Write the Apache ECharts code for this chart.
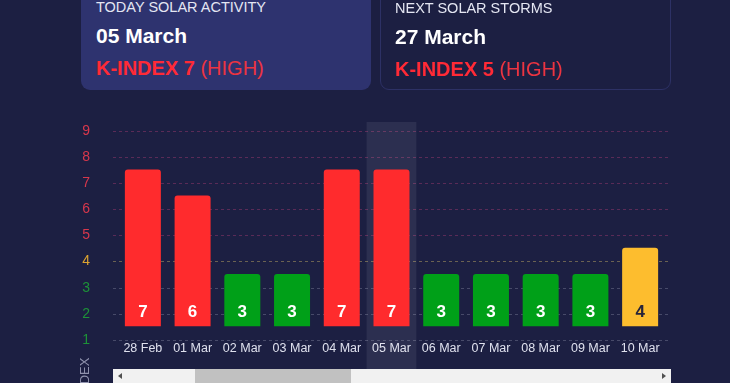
<!DOCTYPE html>
<html>
<head>
<meta charset="utf-8">
<script src="https://cdn.jsdelivr.net/npm/echarts@6/dist/echarts.min.js"></script>
<style>
  html, body { margin: 0; padding: 0; background: #1c1f42; overflow: hidden; }
  body { width: 730px; height: 383px; position: relative; font-family: "Liberation Sans", Arial, sans-serif; }
  #chart { position: absolute; left: 0; top: 0; width: 730px; height: 383px; }
  .card { position: absolute; top: -20px; height: 110px; border-radius: 9px; box-sizing: border-box; }
  .card.today { left: 81px; width: 290px; background: #2e336f; }
  .card.next { left: 380px; width: 291px; border: 1px solid #2d3165; }
  .card .t { position: absolute; left: 15px; top: 19.5px; font-size: 14.5px; line-height: 14.5px; color: #e4e6f2; }
  .card .d { position: absolute; left: 15px; top: 45px; font-size: 21px; line-height: 21px; font-weight: bold; color: #fff; }
  .card .k { position: absolute; left: 15px; top: 77.5px; font-size: 20px; line-height: 20px; color: #ec3441; white-space: nowrap; }
  .card .k b { color: #ff2a36; }
  .card.next .t, .card.next .d, .card.next .k { left: 14px; }
  .sb { position: absolute; left: 113px; top: 369px; width: 558px; height: 17px; background: #f1f1f1; }
  .sb .thumb { position: absolute; left: 82px; top: 0; width: 156px; height: 17px; background: #c1c1c1; }
  .sb .al { position: absolute; left: 5px; top: 4px; width: 0; height: 0; border-top: 3.5px solid transparent; border-bottom: 3.5px solid transparent; border-right: 4px solid #505050; }
  .sb .ar { position: absolute; right: 5px; top: 4px; width: 0; height: 0; border-top: 3.5px solid transparent; border-bottom: 3.5px solid transparent; border-left: 4px solid #505050; }
</style>
</head>
<body>
<div id="chart"></div>
<div class="card today">
  <div class="t" id="todayTitle"></div>
  <div class="d" id="todayDate"></div>
  <div class="k" id="todayK"></div>
</div>
<div class="card next">
  <div class="t" id="nextTitle"></div>
  <div class="d" id="nextDate"></div>
  <div class="k" id="nextK"></div>
</div>
<div class="sb"><div class="thumb"></div><div class="al"></div><div class="ar"></div></div>
<script>
// header cards
const todayCard = { title: "TODAY SOLAR ACTIVITY", date: "05 March", kIndex: 7, level: "HIGH" };
const nextCard = { title: "NEXT SOLAR STORMS", date: "27 March", kIndex: 5, level: "HIGH" };

// chart data
const days = ["28 Feb", "01 Mar", "02 Mar", "03 Mar", "04 Mar", "05 Mar", "06 Mar", "07 Mar", "08 Mar", "09 Mar", "10 Mar"];
const kIndex = [7, 6, 3, 3, 7, 7, 3, 3, 3, 3, 4];
const yTicks = [1, 2, 3, 4, 5, 6, 7, 8, 9];
const selectedDay = "05 Mar";

function fillCard(prefix, c) {
  document.getElementById(prefix + "Title").textContent = c.title;
  document.getElementById(prefix + "Date").textContent = c.date;
  document.getElementById(prefix + "K").innerHTML = "<b>K-INDEX " + c.kIndex + "</b> (" + c.level + ")";
}
fillCard("today", todayCard);
fillCard("next", nextCard);

const RED = "#ff2b2d", YELLOW = "#fdbd2e", GREEN = "#00a018";
function barColor(v) { return v >= 5 ? RED : v === 4 ? YELLOW : GREEN; }
function tickColor(v) { return v >= 5 ? "#d7374c" : v === 4 ? "#dca330" : "#1d9238"; }
function lineColor(v) { return v >= 5 ? "#5a2b57" : v === 4 ? "#6a6252" : "#474a69"; }

const myChart = echarts.init(document.getElementById("chart"));
const option = {
  backgroundColor: "transparent",
  animation: false,
  grid: [
    // axis labels + grid lines
    { left: 113, right: 59, top: 131, bottom: 43 },
    // bars
    { left: 118, right: 65, top: 131, bottom: 56.8 },
    // highlight column
    { left: 118, right: 65, top: 122, bottom: 14 }
  ],
  axisPointer: { z: 1 },
  xAxis: [
    { gridIndex: 0, type: "value", min: 0, max: 1, show: false },
    {
      gridIndex: 1, type: "category", data: days,
      axisLine: { show: false }, axisTick: { show: false },
      axisLabel: { color: "#dfe1ee", fontSize: 12.5, margin: 16, interval: 0, fontFamily: "Liberation Sans" }
    },
    {
      gridIndex: 2, type: "category", data: days,
      axisLine: { show: false }, axisTick: { show: false }, axisLabel: { show: false },
      axisPointer: {
        show: true, type: "shadow", status: "show", value: days.indexOf(selectedDay), z: 1,
        label: { show: false }, shadowStyle: { color: "rgba(255,255,255,0.075)" }
      }
    }
  ],
  yAxis: [
    {
      gridIndex: 0, type: "value", min: yTicks[0], max: yTicks[yTicks.length - 1], interval: 1,
      axisLine: { show: false }, axisTick: { show: false },
      axisLabel: {
        margin: 23, fontSize: 14, fontFamily: "Liberation Sans",
        color: (v) => tickColor(+v)
      },
      splitLine: { show: true, lineStyle: { type: [3, 3], width: 1, color: yTicks.map(lineColor) } }
    },
    { gridIndex: 1, type: "value", min: 1, max: 8.47, show: false, splitLine: { show: false } },
    { gridIndex: 2, type: "value", min: 0, max: 1, show: false, splitLine: { show: false } }
  ],
  graphic: [{
    type: "text", x: 85, y: 384, rotation: Math.PI / 2,
    style: { text: "K-INDEX", fill: "#8f92ad", font: "13px 'Liberation Sans'", align: "center", verticalAlign: "middle" }
  }],
  series: [{
    type: "bar",
    xAxisIndex: 1, yAxisIndex: 1,
    z: 100,
    barWidth: 36,
    data: kIndex.map((v) => ({
      value: v,
      itemStyle: { color: barColor(v), borderRadius: [3, 3, 0, 0] },
      label: { color: v === 4 ? "#26243a" : "#ffffff" }
    })),
    label: {
      show: true, position: "insideBottom", distance: 5,
      fontSize: 17, fontWeight: "bold", fontFamily: "Liberation Sans"
    }
  }]
};
option && myChart.setOption(option);
</script>
</body>
</html>
